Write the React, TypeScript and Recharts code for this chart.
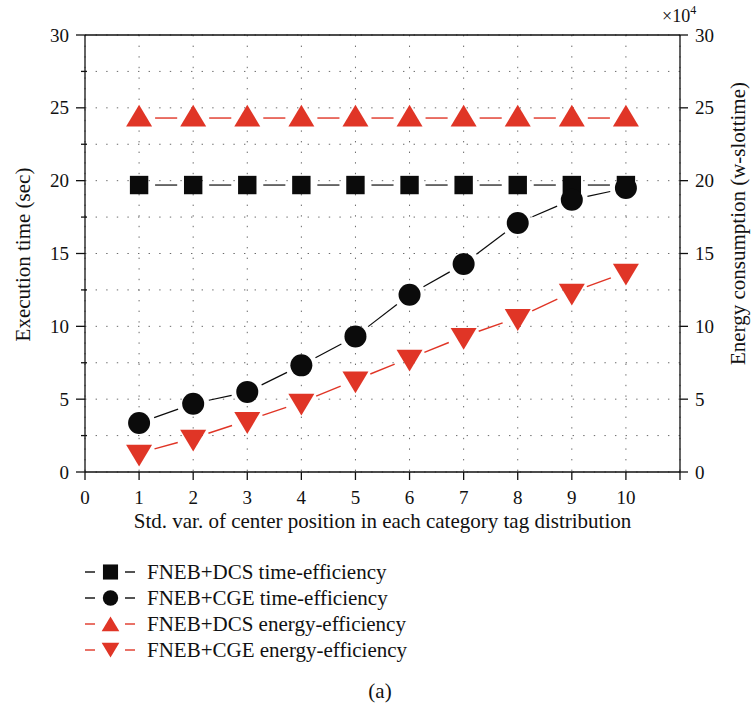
import React from "react";
import {
  CartesianGrid,
  ComposedChart,
  Label,
  Line,
  ReferenceLine,
  XAxis,
  YAxis,
} from "recharts";

// Std. var. of the center position on the x axis, one point per setting.
const stdVar = [1, 2, 3, 4, 5, 6, 7, 8, 9, 10];
// Execution time in seconds (left axis).
const dcsTime = [19.7, 19.7, 19.7, 19.7, 19.7, 19.7, 19.7, 19.7, 19.7, 19.7];
const cgeTime = [3.36, 4.69, 5.5, 7.32, 9.31, 12.17, 14.28, 17.09, 18.69, 19.49];
// Energy consumption in units of 10^4 w-slottime (right axis).
const dcsEnergy = [24.3, 24.3, 24.3, 24.3, 24.3, 24.3, 24.3, 24.3, 24.3, 24.3];
const cgeEnergy = [1.29, 2.32, 3.53, 4.79, 6.32, 7.81, 9.3, 10.6, 12.34, 13.71];

const xTicks = [0, 1, 2, 3, 4, 5, 6, 7, 8, 9, 10, 11];
const xLabels = [0, 1, 2, 3, 4, 5, 6, 7, 8, 9, 10];
const leftTicks = [0, 2.5, 5, 7.5, 10, 12.5, 15, 17.5, 20, 22.5, 25, 27.5, 30];
const rightTicks = [0, 5, 10, 15, 20, 25, 30];

const FONT = "'Liberation Serif', 'DejaVu Serif', serif";
const INK = "#0b0b0b";
const RED = "#e03526";

// The figure fills the whole page, edge to edge.
if (typeof document !== "undefined") {
  document.body.style.margin = "0";
}

type Mark = "square" | "circle" | "up" | "down";

const series: { key: string; name: string; mark: Mark; color: string; axis: string; values: number[] }[] = [
  { key: "dcsTime", name: "FNEB+DCS time-efficiency", mark: "square", color: INK, axis: "left", values: dcsTime },
  { key: "cgeTime", name: "FNEB+CGE time-efficiency", mark: "circle", color: INK, axis: "left", values: cgeTime },
  { key: "dcsEnergy", name: "FNEB+DCS energy-efficiency", mark: "up", color: RED, axis: "right", values: dcsEnergy },
  { key: "cgeEnergy", name: "FNEB+CGE energy-efficiency", mark: "down", color: RED, axis: "right", values: cgeEnergy },
];

const legendScale: Record<Mark, number> = { square: 0.82, circle: 0.7, up: 0.68, down: 0.68 };

const rows = stdVar.map((x, i) => {
  const row: Record<string, number> = { x };
  series.forEach((s) => {
    row[s.key] = s.values[i];
  });
  return row;
});

function Marker({ mark, cx, cy, color, k = 1 }: { mark: Mark; cx: number; cy: number; color: string; k?: number }) {
  if (mark === "square") {
    const h = 9.2 * k;
    return <rect x={cx - h} y={cy - h} width={h * 2} height={h * 2} fill={color} />;
  }
  if (mark === "circle") {
    return <circle cx={cx} cy={cy} r={11 * k} fill={color} />;
  }
  const w = 13 * k;
  const tip = 13.3 * k;
  const base = 8.5 * k;
  const pts =
    mark === "up"
      ? `${cx},${cy - tip} ${cx - w},${cy + base} ${cx + w},${cy + base}`
      : `${cx},${cy + tip} ${cx - w},${cy - base} ${cx + w},${cy - base}`;
  return <polygon points={pts} fill={color} />;
}

// Each dot draws its marker plus the segment to the next point, trimmed back
// from both markers so the series reads as a broken dash.
const markDot = (mark: Mark, color: string, width: number, gap = 16) => (props: any) => {
  const { cx, cy, index, points } = props;
  const next = points?.[index + 1];
  let seg = null;
  if (next && cx != null && cy != null) {
    const dx = next.x - cx;
    const dy = next.y - cy;
    const len = Math.hypot(dx, dy);
    if (len > gap * 2) {
      const ux = dx / len;
      const uy = dy / len;
      seg = (
        <line
          x1={cx + ux * gap}
          y1={cy + uy * gap}
          x2={next.x - ux * gap}
          y2={next.y - uy * gap}
          stroke={color}
          strokeWidth={width}
        />
      );
    }
  }
  return (
    <g key={`dot-${mark}-${index}`}>
      {seg}
      <Marker mark={mark} cx={cx} cy={cy} color={color} />
    </g>
  );
};

const tickText = { fontFamily: FONT, fontSize: 19, fill: "#111" };

const LeftTick = ({ x, y, payload }: any) => {
  const v = payload.value as number;
  const major = v % 5 === 0;
  return (
    <g>
      <line x1={x - (major ? 9 : 4)} x2={x + (major ? 0 : 2)} y1={y} y2={y} stroke="#111" strokeWidth={1.3} />
      {major && (
        <text x={x - 16} y={y} textAnchor="end" dominantBaseline="central" {...tickText}>
          {v}
        </text>
      )}
    </g>
  );
};

const RightTick = ({ x, y, payload }: any) => (
  <g>
    <line x1={x} x2={x + 8} y1={y} y2={y} stroke="#111" strokeWidth={1.3} />
    <text x={x + 15} y={y} textAnchor="start" dominantBaseline="central" {...tickText}>
      {payload.value}
    </text>
  </g>
);

const BottomTick = ({ x, y, payload }: any) => (
  <g>
    <line x1={x} x2={x} y1={y} y2={y + 8} stroke="#111" strokeWidth={1.3} />
    {xLabels.includes(payload.value) && (
      <text x={x} y={y + 25} textAnchor="middle" dominantBaseline="central" {...tickText}>
        {payload.value}
      </text>
    )}
  </g>
);

const titleText = { fontFamily: FONT, fontSize: 21, fill: "#111" };

const LeftTitle = ({ viewBox }: any) => {
  const cx = viewBox.x - 2;
  const cy = viewBox.y + viewBox.height / 2 + 1;
  return (
    <text x={cx} y={cy} transform={`rotate(-90 ${cx} ${cy})`} textAnchor="middle" dominantBaseline="central" {...titleText}>
      Execution time (sec)
    </text>
  );
};

const RightTitle = ({ viewBox }: any) => {
  const cx = viewBox.x + 58;
  const cy = viewBox.y + viewBox.height / 2 - 30;
  return (
    <g>
      <text x={cx} y={cy} transform={`rotate(-90 ${cx} ${cy})`} textAnchor="middle" dominantBaseline="central" {...titleText}>
        Energy consumption (w-slottime)
      </text>
      <text x={viewBox.x - 18} y={viewBox.y - 13} fontFamily={FONT} fontSize={18} fill="#111">
        ×10
        <tspan fontSize={12} dy={-8}>
          4
        </tspan>
      </text>
    </g>
  );
};

const BottomTitle = ({ viewBox }: any) => (
  <text
    x={viewBox.x + viewBox.width / 2}
    y={viewBox.y + 49}
    textAnchor="middle"
    dominantBaseline="central"
    {...titleText}
  >
    Std. var. of center position in each category tag distribution
  </text>
);

function LegendIcon({ mark, color }: { mark: Mark; color: string }) {
  return (
    <svg width={52} height={26} style={{ display: "block" }}>
      <line x1={0} x2={10} y1={13} y2={13} stroke={color} strokeWidth={1.4} />
      <line x1={40} x2={50} y1={13} y2={13} stroke={color} strokeWidth={1.4} />
      <Marker
        mark={mark}
        cx={25.5}
        cy={mark === "up" ? 14.5 : mark === "down" ? 11.5 : 13}
        color={color}
        k={legendScale[mark]}
      />
    </svg>
  );
}

export default function App() {
  return (
    <div style={{ position: "relative", width: 752, height: 707 }}>
      <ComposedChart
        width={752}
        height={707}
        data={rows}
        margin={{ top: 35, right: 12, bottom: 195, left: 25 }}
      >
        <CartesianGrid yAxisId="left" stroke="#6a6a6a" strokeDasharray="1.4 9.2" strokeWidth={1} />
        <XAxis
          dataKey="x"
          type="number"
          domain={[0, 11]}
          ticks={xTicks}
          interval={0}
          height={40}
          tickSize={0}
          tickMargin={0}
          tickLine={false}
          tick={<BottomTick />}
          axisLine={{ stroke: "#111", strokeWidth: 1.3 }}
        >
          <Label content={<BottomTitle />} />
        </XAxis>
        <YAxis
          yAxisId="left"
          domain={[0, 30]}
          ticks={leftTicks}
          interval={0}
          width={60}
          tickSize={0}
          tickMargin={0}
          tickLine={false}
          tick={<LeftTick />}
          axisLine={{ stroke: "#111", strokeWidth: 1.3 }}
        >
          <Label content={<LeftTitle />} />
        </YAxis>
        <YAxis
          yAxisId="right"
          orientation="right"
          domain={[0, 30]}
          ticks={rightTicks}
          interval={0}
          width={60}
          tickSize={0}
          tickMargin={0}
          tickLine={false}
          tick={<RightTick />}
          axisLine={{ stroke: "#111", strokeWidth: 1.3 }}
        >
          <Label content={<RightTitle />} />
        </YAxis>
        <ReferenceLine yAxisId="left" y={30} stroke="#111" strokeWidth={1.3} />
        {series.map((s) => (
          <Line
            key={s.key}
            yAxisId={s.axis}
            dataKey={s.key}
            name={s.name}
            stroke="none"
            dot={markDot(s.mark, s.color, s.color === RED ? 1.4 : 1.2)}
            activeDot={false}
            isAnimationActive={false}
          />
        ))}
      </ComposedChart>

      <div style={{ position: "absolute", left: 85, top: 559, fontFamily: FONT, fontSize: 21, color: "#111" }}>
        {series.map((s) => (
          <div key={s.key} style={{ display: "flex", alignItems: "center", height: 26 }}>
            <LegendIcon mark={s.mark} color={s.color} />
            <span style={{ marginLeft: 10, lineHeight: "26px", whiteSpace: "nowrap" }}>{s.name}</span>
          </div>
        ))}
      </div>

      <div
        style={{
          position: "absolute",
          left: 340,
          top: 678,
          width: 80,
          textAlign: "center",
          fontFamily: FONT,
          fontSize: 21,
          lineHeight: "26px",
          color: "#111",
        }}
      >
        (a)
      </div>
    </div>
  );
}
